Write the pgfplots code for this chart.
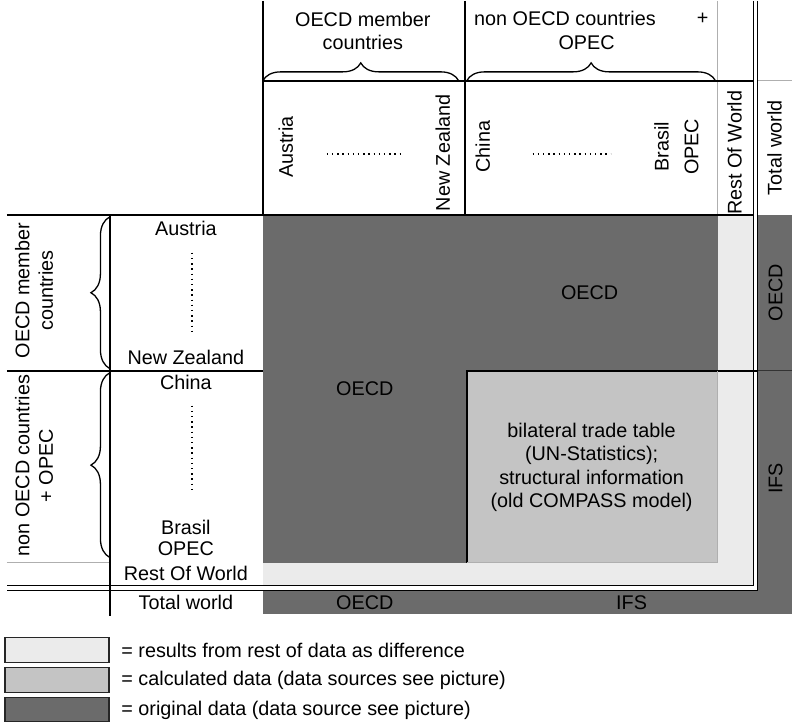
\documentclass[border=0pt]{standalone}
\usepackage{fontspec}
\setmainfont{Liberation Sans}
\usepackage{pgfplots}
\pgfplotsset{compat=1.18}
\usetikzlibrary{decorations.pathreplacing}
\definecolor{darkfill}{RGB}{107,107,107}
\definecolor{calcfill}{RGB}{196,196,196}
\definecolor{lightfill}{RGB}{235,235,235}
\definecolor{thingray}{RGB}{175,175,175}
\newcommand\fs{\fontsize{19.8}{23.5}\selectfont}
\begin{document}
\begin{tikzpicture}[font=\fs]
\begin{axis}[x=1pt, y=1pt, xmin=0, xmax=792, ymin=0, ymax=723, y dir=reverse,
  hide axis, clip=false, every node/.append style={inner sep=0pt}]
% background
\addplot[fill=white, draw=none] coordinates {(0,0) (792,0) (792,723) (0,723)} -- cycle;
% areas
\addplot[fill=darkfill, draw=none] coordinates {(263,214) (718,214) (718,562) (263,562)} -- cycle;
\addplot[fill=calcfill, draw=none] coordinates {(467,370) (718,370) (718,562) (467,562)} -- cycle;
\addplot[fill=lightfill, draw=none] coordinates {(718,214) (754,214) (754,585) (718,585)} -- cycle;
\addplot[fill=lightfill, draw=none] coordinates {(263,562) (754,562) (754,585) (263,585)} -- cycle;
\addplot[fill=darkfill, draw=none] coordinates {(758,214) (792,214) (792,613) (758,613)} -- cycle;
\addplot[fill=darkfill, draw=none] coordinates {(263,590) (792,590) (792,613) (263,613)} -- cycle;
% header lines
\addplot[black, line width=1.8pt] coordinates {(263,0) (263,214)};
\addplot[black, line width=1.8pt] coordinates {(465,0) (465,214)};
\addplot[thingray, line width=1pt] coordinates {(718,0) (718,214)};
\addplot[black, line width=1.8pt] coordinates {(263,80) (754,80)};
\addplot[thingray, line width=1pt] coordinates {(758,80) (792,80)};
% body lines
\addplot[black, line width=1.8pt] coordinates {(7,214) (754,214)};
\addplot[black, line width=1.8pt] coordinates {(7,370) (263,370)};
\addplot[black, line width=1.8pt] coordinates {(467,562) (467,370) (758,370)};
\addplot[black!80, line width=1pt] coordinates {(758,370) (792,370)};
\addplot[thingray, line width=1pt] coordinates {(7,562) (110,562)};
\addplot[thingray, line width=0.8pt] coordinates {(467,562) (718,562) (718,370)};
\addplot[black, line width=1.4pt] coordinates {(110,214) (110,615)};
% double lines
\addplot[black, line width=1.6pt] coordinates {(754,0) (754,585) (7,585)};
\addplot[black, line width=1.6pt] coordinates {(758,0) (758,590) (7,590)};
% braces
\addplot[black, line width=1.3pt, decorate, decoration={brace, amplitude=18pt}] coordinates {(263,80) (459,80)};
\addplot[black, line width=1.3pt, decorate, decoration={brace, amplitude=18pt}] coordinates {(467,80) (716,80)};
\addplot[black, line width=1.3pt, decorate, decoration={brace, amplitude=19pt}] coordinates {(110,368) (110,216)};
\addplot[black, line width=1.3pt, decorate, decoration={brace, amplitude=19pt}] coordinates {(110,557) (110,372)};
% dotted lines
\addplot[black, line width=1.4pt, dash pattern=on 1.4pt off 3.8pt] coordinates {(327,153) (401,153)};
\addplot[black, line width=1.4pt, dash pattern=on 1.4pt off 3.8pt] coordinates {(533,153) (611,153)};
\addplot[black, line width=1.4pt, dash pattern=on 1.4pt off 3.8pt] coordinates {(192,252) (192,333)};
\addplot[black, line width=1.4pt, dash pattern=on 1.4pt off 3.8pt] coordinates {(192,405) (192,493)};
% header texts
\node[align=center] at (axis cs:363,30) {OECD member\\countries};
\node[anchor=west] at (axis cs:471,18) {non OECD countries};
\node at (axis cs:703,18) {+};
\node at (axis cs:587,42) {OPEC};
\node[rotate=90] at (axis cs:286,146) {Austria};
\node[rotate=90] at (axis cs:443,152) {New Zealand};
\node[rotate=90] at (axis cs:483,146) {China};
\node[rotate=90] at (axis cs:662,146) {Brasil};
\node[rotate=90] at (axis cs:692,146) {OPEC};
\node[rotate=90] at (axis cs:735,152) {Rest Of World};
\node[rotate=90] at (axis cs:775,147) {Total world};
% row labels
\node at (axis cs:186,228) {Austria};
\node at (axis cs:186,357) {New Zealand};
\node at (axis cs:186,382) {China};
\node at (axis cs:186,527) {Brasil};
\node at (axis cs:186,548) {OPEC};
\node at (axis cs:186,573) {Rest Of World};
\node at (axis cs:186,602) {Total world};
\node[rotate=90, align=center] at (axis cs:34,290) {OECD member\\countries};
\node[rotate=90, align=center] at (axis cs:34,465) {non OECD countries\\+ OPEC};
% body texts
\node at (axis cs:590,292) {OECD};
\node at (axis cs:365,388) {OECD};
\node[align=center] at (axis cs:592,467) {bilateral trade table\\(UN-Statistics);\\structural information\\(old COMPASS model)};
\node[rotate=90] at (axis cs:776,292) {OECD};
\node[rotate=90] at (axis cs:776,478) {IFS};
\node at (axis cs:365,602) {OECD};
\node at (axis cs:632,602) {IFS};
% legend
\addplot[fill=lightfill, draw=black!85, line width=1.8pt] coordinates {(5,637) (109,637) (109,662) (5,662)} -- cycle;
\addplot[fill=calcfill, draw=black!85, line width=1.8pt] coordinates {(5,667) (109,667) (109,692) (5,692)} -- cycle;
\addplot[fill=darkfill, draw=black!85, line width=1.8pt] coordinates {(5,697) (109,697) (109,721) (5,721)} -- cycle;
\node[anchor=west] at (axis cs:118,650) {= results from rest of data as difference};
\node[anchor=west] at (axis cs:118,680) {= calculated data (data sources see picture)};
\node[anchor=west] at (axis cs:118,710) {= original data (data source see picture)};
\end{axis}
\end{tikzpicture}
\end{document}
